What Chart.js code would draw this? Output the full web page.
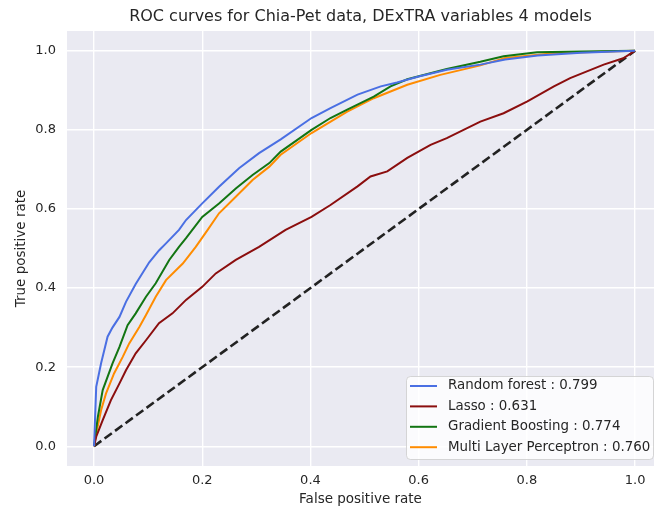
<!DOCTYPE html>
<html>
<head>
<meta charset="utf-8">
<script src="https://cdn.jsdelivr.net/npm/chart.js@4.4.0/dist/chart.umd.min.js"></script>
<style>
  html, body { margin: 0; padding: 0; background: #fff; }
</style>
</head>
<body>
<canvas id="roc" width="654" height="513"></canvas>
<script>
// tick positions
const xTicks = [0, 0.2, 0.4, 0.6, 0.8, 1.0];
const yTicks = [0, 0.2, 0.4, 0.6, 0.8, 1.0];

const modelNames = [
    'Random forest : 0.799',
    'Lasso : 0.631',
    'Gradient Boosting : 0.774',
    'Multi Layer Perceptron : 0.760'
];
const modelColors = ['#4a6fe3', '#8b0e0e', '#127512', '#ff8c00'];

// ROC points
const rfFpr = [0, 0.004, 0.013, 0.025, 0.034, 0.047, 0.059, 0.077, 0.102, 0.12, 0.133, 0.157, 0.17, 0.2, 0.231, 0.268, 0.305, 0.345, 0.402, 0.437, 0.487, 0.53, 0.56, 0.6, 0.652, 0.714, 0.76, 0.82, 0.9, 1.0];
const rfTpr = [0, 0.15, 0.21, 0.277, 0.30, 0.327, 0.365, 0.41, 0.465, 0.495, 0.513, 0.547, 0.572, 0.614, 0.656, 0.703, 0.741, 0.776, 0.83, 0.855, 0.889, 0.91, 0.92, 0.935, 0.952, 0.965, 0.978, 0.988, 0.995, 1.0];

const lassoFpr = [0, 0.004, 0.016, 0.031, 0.047, 0.059, 0.077, 0.096, 0.12, 0.145, 0.17, 0.2, 0.225, 0.262, 0.305, 0.354, 0.402, 0.437, 0.487, 0.511, 0.542, 0.579, 0.622, 0.652, 0.714, 0.757, 0.801, 0.85, 0.88, 0.942, 0.978, 1.0];
const lassoTpr = [0, 0.024, 0.066, 0.116, 0.159, 0.192, 0.235, 0.268, 0.311, 0.336, 0.37, 0.403, 0.437, 0.471, 0.504, 0.547, 0.58, 0.61, 0.657, 0.682, 0.695, 0.729, 0.762, 0.779, 0.821, 0.842, 0.872, 0.91, 0.931, 0.965, 0.981, 1.0];

const gbFpr = [0, 0.007, 0.016, 0.034, 0.047, 0.062, 0.077, 0.096, 0.114, 0.139, 0.157, 0.17, 0.2, 0.231, 0.262, 0.293, 0.324, 0.345, 0.402, 0.437, 0.468, 0.517, 0.548, 0.579, 0.652, 0.714, 0.757, 0.819, 0.9, 1.0];
const gbTpr = [0, 0.074, 0.142, 0.209, 0.251, 0.306, 0.336, 0.378, 0.412, 0.471, 0.504, 0.526, 0.58, 0.614, 0.652, 0.686, 0.716, 0.745, 0.8, 0.83, 0.851, 0.884, 0.91, 0.928, 0.954, 0.972, 0.986, 0.996, 0.998, 1.0];

const mlpFpr = [0, 0.004, 0.013, 0.022, 0.037, 0.053, 0.065, 0.084, 0.096, 0.114, 0.133, 0.164, 0.188, 0.21, 0.231, 0.262, 0.293, 0.324, 0.345, 0.402, 0.468, 0.517, 0.579, 0.64, 0.714, 0.76, 0.85, 0.92, 1.0];
const mlpTpr = [0, 0.032, 0.091, 0.133, 0.184, 0.226, 0.26, 0.302, 0.332, 0.378, 0.42, 0.462, 0.504, 0.547, 0.589, 0.631, 0.673, 0.707, 0.737, 0.792, 0.846, 0.88, 0.914, 0.939, 0.963, 0.982, 0.994, 0.997, 1.0];

const chanceFpr = [0, 1];
const chanceTpr = [0, 1];

const textColor = '#262626';
const fontFamily = '"DejaVu Sans", sans-serif';

function toPoints(xs, ys) {
    return xs.map((x, i) => ({ x: x, y: ys[i] }));
}

// seaborn-ish grey background behind the plot
const plotBackground = {
    id: 'plotBackground',
    beforeDraw(chart) {
        const { ctx, chartArea } = chart;
        ctx.save();
        ctx.fillStyle = '#eaeaf2';
        ctx.fillRect(chartArea.left, chartArea.top, chartArea.right - chartArea.left, chartArea.bottom - chartArea.top);
        ctx.restore();
    }
};

// legend box in the lower right corner of the axes
const insideLegend = {
    id: 'insideLegend',
    afterDraw(chart) {
        const ctx = chart.ctx;
        const items = chart.data.datasets.filter(d => d.label);
        const boxX = 406, boxY = 376, boxW = 247, boxH = 83;
        ctx.save();
        ctx.beginPath();
        ctx.roundRect(boxX + 0.5, boxY + 0.5, boxW, boxH, 4);
        ctx.fillStyle = 'rgba(255,255,255,0.8)';
        ctx.fill();
        ctx.strokeStyle = 'rgba(204,204,204,0.8)';
        ctx.lineWidth = 1;
        ctx.stroke();
        ctx.font = '13.4px ' + fontFamily;
        ctx.textBaseline = 'middle';
        items.forEach((d, i) => {
            const y = boxY + 10 + i * 20.4;
            ctx.beginPath();
            ctx.moveTo(boxX + 4, y);
            ctx.lineTo(boxX + 31, y);
            ctx.strokeStyle = d.borderColor;
            ctx.lineWidth = 2;
            ctx.stroke();
            ctx.fillStyle = textColor;
            ctx.fillText(d.label, boxX + 42, y);
        });
        ctx.restore();
    }
};

const curves = [
    [rfFpr, rfTpr],
    [lassoFpr, lassoTpr],
    [gbFpr, gbTpr],
    [mlpFpr, mlpTpr]
];

const datasets = curves.map((c, i) => ({
    label: modelNames[i],
    data: toPoints(c[0], c[1]),
    borderColor: modelColors[i],
    borderWidth: 2,
    pointRadius: 0,
    fill: false,
    tension: 0
}));

datasets.push({
    label: '',
    data: toPoints(chanceFpr, chanceTpr),
    borderColor: '#222222',
    borderWidth: 2.6,
    borderDash: [9, 4],
    pointRadius: 0,
    fill: false
});

new Chart(document.getElementById('roc').getContext('2d'), {
    type: 'line',
    data: { datasets: datasets },
    options: {
        responsive: false,
        animation: false,
        layout: { padding: 0 },
        plugins: {
            legend: { display: false },
            tooltip: { enabled: false },
            title: {
                display: true,
                text: 'ROC curves for Chia-Pet data, DExTRA variables 4 models',
                fullSize: false,
                color: textColor,
                font: { family: fontFamily, size: 16, weight: 'normal' },
                padding: { top: 7, bottom: 4.8 }
            }
        },
        scales: {
            x: {
                type: 'linear',
                min: -0.05,
                max: 1.035,
                afterBuildTicks: s => { s.ticks = xTicks.map(v => ({ value: v })); },
                afterFit: s => { s.height = 47; },
                ticks: {
                    callback: v => v.toFixed(1),
                    color: textColor,
                    font: { family: fontFamily, size: 13 },
                    padding: 7,
                    maxRotation: 0
                },
                grid: { color: '#ffffff', lineWidth: 1.4, drawTicks: false },
                border: { display: false },
                title: {
                    display: true,
                    text: 'False positive rate',
                    color: textColor,
                    font: { family: fontFamily, size: 13.5 },
                    padding: { top: 0, bottom: 5 }
                }
            },
            y: {
                type: 'linear',
                min: -0.05,
                max: 1.05,
                afterBuildTicks: s => { s.ticks = yTicks.map(v => ({ value: v })); },
                afterFit: s => { s.width = 67; },
                ticks: {
                    callback: v => v.toFixed(1),
                    color: textColor,
                    font: { family: fontFamily, size: 13 },
                    padding: 11
                },
                grid: { color: '#ffffff', lineWidth: 1.4, drawTicks: false },
                border: { display: false },
                title: {
                    display: true,
                    text: 'True positive rate',
                    color: textColor,
                    font: { family: fontFamily, size: 13.5 },
                    padding: { top: 13.5, bottom: 0 }
                }
            }
        }
    },
    plugins: [plotBackground, insideLegend]
});
</script>
</body>
</html>
